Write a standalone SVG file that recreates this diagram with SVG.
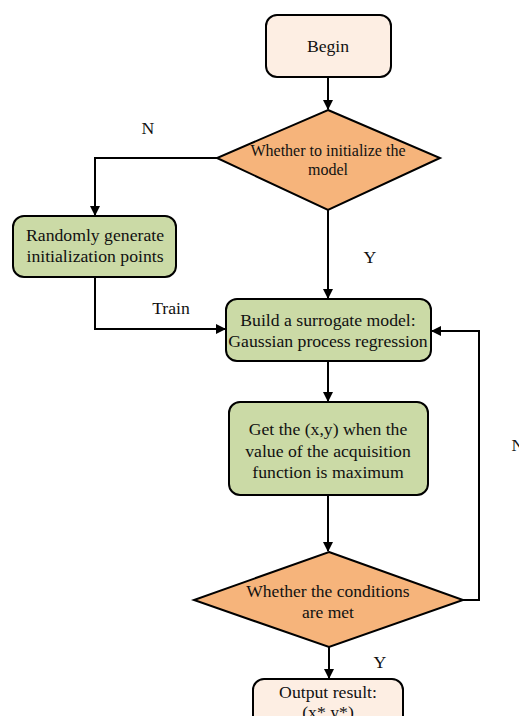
<svg xmlns="http://www.w3.org/2000/svg" width="519" height="716" viewBox="0 0 519 716">
<style>
text{font-family:"Liberation Serif","Times New Roman",serif;fill:#111;text-anchor:middle}
.t16{font-size:17.7px}
.t15{font-size:16px}
.t17{font-size:17.5px}
.box{stroke:#000;stroke-width:2}
.peach{fill:#fdeee3}
.green{fill:#cbdaa6}
.orange{fill:#f6b47b}
.c{fill:none;stroke:#000;stroke-width:2}
</style>
<defs>
<marker id="ah" markerWidth="10" markerHeight="10" refX="9" refY="5" orient="auto" markerUnits="userSpaceOnUse">
<path d="M0,0 L10,5 L0,10 Z" fill="#000"/>
</marker>
</defs>
<rect width="519" height="716" fill="#fff"/>
<g id="connectors">
<path class="c" d="M328,77 V109" marker-end="url(#ah)"/>
<path class="c" d="M217,158 H95 V215" marker-end="url(#ah)"/>
<path class="c" d="M328,210 V298" marker-end="url(#ah)"/>
<path class="c" d="M95,277 V329 H225" marker-end="url(#ah)"/>
<path class="c" d="M328,361 V401" marker-end="url(#ah)"/>
<path class="c" d="M328,495 V551" marker-end="url(#ah)"/>
<path class="c" d="M463,600 H479 V331 H432" marker-end="url(#ah)"/>
<path class="c" d="M329,647 V678" marker-end="url(#ah)"/>
<text class="t16" x="148" y="134">N</text>
<text class="t16" x="370" y="263">Y</text>
<text class="t16" x="171" y="314">Train</text>
<text class="t16" x="518" y="451">N</text>
<text class="t16" x="380" y="668">Y</text>
</g>
<g id="begin">
<rect class="box peach" x="266" y="15" width="125" height="62" rx="11"/>
<text class="t16" x="328" y="52">Begin</text>
</g>
<g id="init-decision">
<polygon class="box orange" points="328,110 440,158 328,210 217,158"/>
<text class="t15" x="328" y="156">Whether to initialize the</text>
<text class="t15" x="328" y="175">model</text>
</g>
<g id="random-init">
<rect class="box green" x="13" y="216" width="163" height="61" rx="11"/>
<text class="t16" x="95" y="241">Randomly generate</text>
<text class="t16" x="95" y="262">initialization points</text>
</g>
<g id="surrogate">
<rect class="box green" x="226" y="299" width="205" height="62" rx="11"/>
<text class="t16" x="328" y="326">Build a surrogate model:</text>
<text class="t16" x="328" y="347">Gaussian process regression</text>
</g>
<g id="acquisition">
<rect class="box green" x="229" y="402" width="199" height="93" rx="11"/>
<text class="t16" x="328" y="435">Get the (x,y) when the</text>
<text class="t16" x="328" y="457">value of the acquisition</text>
<text class="t16" x="328" y="478">function is maximum</text>
</g>
<g id="condition">
<polygon class="box orange" points="329,552 463,600 329,647 194,600"/>
<text class="t17" x="328" y="597">Whether the conditions</text>
<text class="t17" x="328" y="618">are met</text>
</g>
<g id="output">
<rect class="box peach" x="253" y="679" width="150" height="60" rx="11"/>
<text class="t16" x="328" y="698">Output result:</text>
<text class="t16" x="328" y="718">(x*,y*)</text>
</g>
</svg>
